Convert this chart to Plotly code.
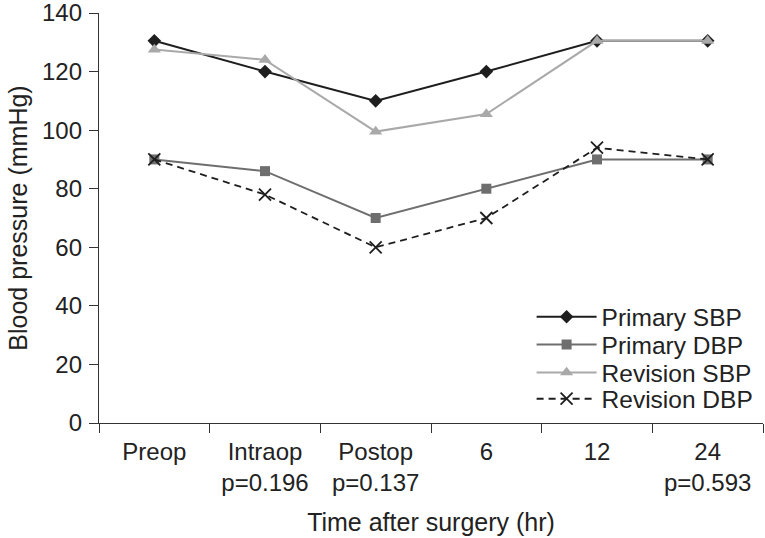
import plotly.graph_objects as go

categories = ["Preop", "Intraop<br>p=0.196", "Postop<br>p=0.137", "6", "12", "24<br>p=0.593"]
primary_sbp = [130.5, 120, 110, 120, 130.5, 130.5]
primary_dbp = [90, 86, 70, 80, 90, 90]
revision_sbp = [127.5, 124, 99.5, 105.5, 130.5, 130.5]
revision_dbp = [90, 78, 60, 70, 94, 90]

FONT = "Liberation Sans, Arial, sans-serif"
TXT = "#222222"
FS_TICK = 24
FS_TITLE = 25
FS_LEG = 24.5

fig = go.Figure()
fig.add_trace(go.Scatter(x=categories, y=primary_sbp, name="Primary SBP", mode="lines+markers",
                         legend="legend",
                         line=dict(color="#1e1e1e", width=2),
                         marker=dict(symbol="diamond", size=10.5, color="#1e1e1e")))
fig.add_trace(go.Scatter(x=categories, y=primary_dbp, name="Primary DBP", mode="lines+markers",
                         legend="legend2",
                         line=dict(color="#6e6e6e", width=2),
                         marker=dict(symbol="square", size=10, color="#6e6e6e")))
fig.add_trace(go.Scatter(x=categories, y=revision_sbp, name="Revision SBP", mode="lines+markers",
                         legend="legend3",
                         line=dict(color="#a9a9a9", width=2),
                         marker=dict(symbol="triangle-up", size=11.5, color="#a9a9a9")))
fig.add_trace(go.Scatter(x=categories, y=revision_dbp, name="Revision DBP", mode="lines+markers",
                         legend="legend4",
                         line=dict(color="#1e1e1e", width=1.8, dash="7px,5px"),
                         marker=dict(symbol="x-thin", size=12, line=dict(color="#1e1e1e", width=1.8))))

def leg(y):
    return dict(x=0.6515, y=y, xanchor="left", yanchor="middle",
                font=dict(family=FONT, size=FS_LEG, color=TXT),
                bgcolor="rgba(0,0,0,0)", borderwidth=0, itemwidth=60)

fig.update_layout(
    width=765, height=538,
    margin=dict(l=99, r=2, t=13, b=115),
    plot_bgcolor="white", paper_bgcolor="white",
    font=dict(family=FONT, size=FS_TICK, color=TXT),
    showlegend=True,
    legend=leg(0.259), legend2=leg(0.191), legend3=leg(0.123), legend4=leg(0.059),
    xaxis=dict(type="category", tickson="boundaries", ticks="outside", ticklen=9,
               range=[-0.5, 5.5],
               tickcolor="#333333", showline=True, linecolor="#333333", linewidth=1.3,
               showgrid=False, zeroline=False, automargin=False, ticklabelstandoff=7,
               ticklabeloverflow="allow",
               tickfont=dict(family=FONT, size=FS_TICK, color=TXT),
               title=dict(text="Time after surgery (hr)", standoff=18,
                          font=dict(family=FONT, size=FS_TITLE, color=TXT))),
    yaxis=dict(range=[0, 140], dtick=20, ticks="outside", ticklen=9,
               tickcolor="#333333", showline=True, linecolor="#333333", linewidth=1.3,
               showgrid=False, zeroline=False, automargin=False, ticklabelstandoff=2,
               ticklabeloverflow="allow",
               tickfont=dict(family=FONT, size=FS_TICK, color=TXT),
               title=dict(text="Blood pressure (mmHg)", standoff=7,
                          font=dict(family=FONT, size=FS_TITLE, color=TXT))),
)

# remove the default 8px page margin so the figure fills the window exactly
fig.write_html("out.html",
               config={"displayModeBar": False},
               post_script="document.body.style.margin='0';document.body.style.overflow='hidden';")
